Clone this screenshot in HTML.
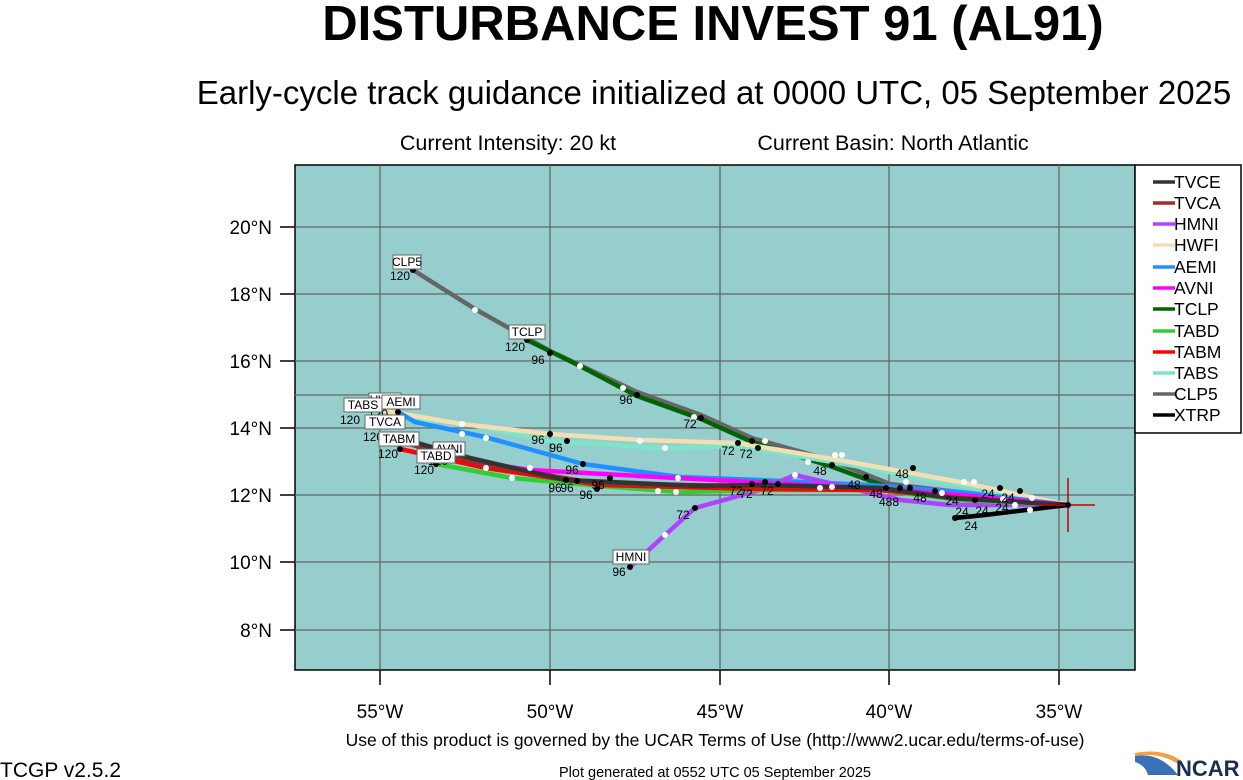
<!DOCTYPE html>
<html><head><meta charset="utf-8"><style>
html,body{margin:0;padding:0;background:#fff;width:1243px;height:780px;overflow:hidden}
svg{display:block;font-family:"Liberation Sans",Arial,sans-serif}
</style></head><body>
<svg width="1243" height="780" viewBox="0 0 1243 780" xmlns="http://www.w3.org/2000/svg">
<text x="713" y="40" font-size="49" font-weight="bold" text-anchor="middle">DISTURBANCE INVEST 91 (AL91)</text>
<text x="714" y="104" font-size="33" text-anchor="middle">Early-cycle track guidance initialized at 0000 UTC, 05 September 2025</text>
<text x="508" y="150" font-size="21.5" text-anchor="middle">Current Intensity: 20 kt</text>
<text x="893" y="150" font-size="21.5" text-anchor="middle">Current Basin: North Atlantic</text>
<rect x="295" y="165" width="840" height="505" fill="#96cdcd" stroke="#000" stroke-width="1.5"/>
<g stroke="#666" stroke-width="1.3">
<line x1="380" y1="165" x2="380" y2="670"/><line x1="550" y1="165" x2="550" y2="670"/><line x1="720" y1="165" x2="720" y2="670"/><line x1="889" y1="165" x2="889" y2="670"/><line x1="1059" y1="165" x2="1059" y2="670"/>
<line x1="295" y1="227" x2="1135" y2="227"/><line x1="295" y1="294" x2="1135" y2="294"/><line x1="295" y1="361" x2="1135" y2="361"/><line x1="295" y1="395" x2="1135" y2="395"/><line x1="295" y1="428" x2="1135" y2="428"/><line x1="295" y1="495" x2="1135" y2="495"/><line x1="295" y1="562" x2="1135" y2="562"/><line x1="295" y1="630" x2="1135" y2="630"/>
</g>
<g stroke="#000" stroke-width="1.5">
<line x1="280" y1="227" x2="295" y2="227"/><line x1="280" y1="294" x2="295" y2="294"/><line x1="280" y1="361" x2="295" y2="361"/><line x1="280" y1="428" x2="295" y2="428"/><line x1="280" y1="495" x2="295" y2="495"/><line x1="280" y1="562" x2="295" y2="562"/><line x1="280" y1="630" x2="295" y2="630"/>
<line x1="380" y1="670" x2="380" y2="685"/><line x1="550" y1="670" x2="550" y2="685"/><line x1="720" y1="670" x2="720" y2="685"/><line x1="889" y1="670" x2="889" y2="685"/><line x1="1059" y1="670" x2="1059" y2="685"/>
</g>
<g font-size="19" text-anchor="end">
<text x="272" y="234">20°N</text><text x="272" y="301">18°N</text><text x="272" y="368">16°N</text><text x="272" y="435">14°N</text><text x="272" y="502">12°N</text><text x="272" y="569">10°N</text><text x="272" y="637">8°N</text>
</g>
<g font-size="19" text-anchor="middle">
<text x="380" y="718">55°W</text><text x="550" y="718">50°W</text><text x="720" y="718">45°W</text><text x="889" y="718">40°W</text><text x="1059" y="718">35°W</text>
</g>
<g fill="none" stroke-width="4.5" stroke-linejoin="round" stroke-linecap="round">
<polyline stroke="#666666" points="1068,505 890,484 830,460 752,438 701,415 637,392 550,351 475,309 413,270"/>
<polyline stroke="#006400" points="1068,505 890,488 830,466 752,442 701,419 637,396 580,366 527,340"/>
<polyline stroke="#7fe5c8" points="1068,505 960,485 850,465 738,446 660,448 550,441 462,423 365,415"/>
<polyline stroke="#f5deb3" points="1068,505 960,482 850,462 738,443 640,440 550,434 462,424 380,410"/>
<polyline stroke="#1e90ff" points="1068,505 960,492 870,485 760,480 680,477 583,464 485,437 415,422 398,412"/>
<polyline stroke="#ff00ff" points="1068,505 960,495 870,488 770,483 676,478 530,470 455,459"/>
<polyline stroke="#b042ff" points="1068,505 950,505 900,500 850,488 795,475 760,490 695,508 665,535 630,567"/>
<polyline stroke="#32cd32" points="1068,505 960,500 880,490 760,490 680,492 600,486 512,478 436,464"/>
<polyline stroke="#ff0000" points="1068,505 960,498 880,490 760,489 600,485 486,468 400,449"/>
<polyline stroke="#a52a2a" points="1068,505 955,498 880,488 760,486 600,484 480,464 395,440"/>
<polyline stroke="#333333" points="1068,505 950,498 880,488 760,485 700,486 566,480 470,458 393,436"/>
<polyline stroke="#000000" points="1068,505 985,515 955,518"/>
</g>
<g stroke="#cc0000" stroke-width="1.5"><line x1="1040" y1="505" x2="1095" y2="505"/><line x1="1068" y1="478" x2="1068" y2="532"/></g>
<g fill="#fff">
<circle cx="475" cy="310" r="3"/><circle cx="580" cy="366" r="3"/><circle cx="623" cy="388" r="3"/><circle cx="694" cy="417" r="3"/><circle cx="765" cy="441" r="3"/><circle cx="462" cy="424" r="3"/><circle cx="462" cy="434" r="3"/><circle cx="640" cy="441" r="3"/><circle cx="665" cy="448" r="3"/><circle cx="486" cy="438" r="3"/><circle cx="530" cy="468" r="3"/><circle cx="486" cy="468" r="3"/><circle cx="512" cy="478" r="3"/><circle cx="678" cy="478" r="3"/><circle cx="658" cy="491" r="3"/><circle cx="676" cy="492" r="3"/><circle cx="665" cy="535" r="3"/><circle cx="795" cy="475" r="3"/><circle cx="808" cy="462" r="3"/><circle cx="835" cy="455" r="3"/><circle cx="842" cy="455" r="3"/><circle cx="906" cy="482" r="3"/><circle cx="964" cy="482" r="3"/><circle cx="974" cy="482" r="3"/><circle cx="1032" cy="498" r="3"/><circle cx="1030" cy="510" r="3"/><circle cx="1003" cy="499" r="3"/><circle cx="942" cy="493" r="3"/><circle cx="832" cy="487" r="3"/><circle cx="820" cy="488" r="3"/><circle cx="1015" cy="505" r="3"/></g>
<g fill="#000">
<circle cx="413" cy="270" r="3"/><circle cx="527" cy="340" r="3"/><circle cx="550" cy="353" r="3"/><circle cx="637" cy="395" r="3"/><circle cx="701" cy="418" r="3"/><circle cx="550" cy="434" r="3"/><circle cx="567" cy="441" r="3"/><circle cx="398" cy="412" r="3"/><circle cx="583" cy="464" r="3"/><circle cx="400" cy="449" r="3"/><circle cx="436" cy="464" r="3"/><circle cx="566" cy="480" r="3"/><circle cx="577" cy="481" r="3"/><circle cx="610" cy="478" r="3"/><circle cx="597" cy="489" r="3"/><circle cx="630" cy="567" r="3"/><circle cx="695" cy="508" r="3"/><circle cx="738" cy="443" r="3"/><circle cx="758" cy="448" r="3"/><circle cx="752" cy="441" r="3"/><circle cx="752" cy="484" r="3"/><circle cx="765" cy="482" r="3"/><circle cx="778" cy="484" r="3"/><circle cx="832" cy="465" r="3"/><circle cx="866" cy="477" r="3"/><circle cx="913" cy="468" r="3"/><circle cx="886" cy="488" r="3"/><circle cx="900" cy="488" r="3"/><circle cx="910" cy="488" r="3"/><circle cx="935" cy="491" r="3"/><circle cx="1000" cy="488" r="3"/><circle cx="1020" cy="491" r="3"/><circle cx="975" cy="500" r="3"/><circle cx="955" cy="518" r="3"/><circle cx="1068" cy="505" r="3"/></g>
<g font-size="12" text-anchor="middle">
<text x="400" y="280">120</text><text x="515" y="351">120</text><text x="538" y="364">96</text><text x="626" y="404">96</text><text x="690" y="428">72</text><text x="728" y="455">72</text><text x="746" y="458">72</text><text x="538" y="444">96</text><text x="556" y="452">96</text><text x="572" y="474">96</text><text x="555" y="492">96</text><text x="567" y="492">96</text><text x="586" y="499">96</text><text x="598" y="489">96</text><text x="619" y="576">96</text><text x="683" y="519">72</text><text x="736" y="495">72</text><text x="746" y="498">72</text><text x="767" y="495">72</text><text x="820" y="475">48</text><text x="854" y="489">48</text><text x="902" y="478">48</text><text x="876" y="498">48</text><text x="889" y="506">488</text><text x="920" y="502">48</text><text x="952" y="505">24</text><text x="988" y="498">24</text><text x="1008" y="502">24</text><text x="962" y="516">24</text><text x="982" y="515">24</text><text x="1002" y="512">24</text><text x="971" y="530">24</text><text x="350" y="424">120</text><text x="373" y="441">120</text><text x="388" y="458">120</text><text x="424" y="474">120</text><text x="438" y="465">120</text><text x="378" y="418">120</text></g>
<g font-size="12" text-anchor="middle">
<rect x="393" y="255" width="28" height="14" fill="#fff" stroke="#666"/><text x="407" y="266">CLP5</text>
<rect x="509" y="325" width="36" height="14" fill="#fff" stroke="#666"/><text x="527" y="336">TCLP</text>
<rect x="369" y="393" width="32" height="14" fill="#fff" stroke="#666"/><text x="385" y="404">HWFI</text>
<rect x="344" y="398" width="38" height="14" fill="#fff" stroke="#666"/><text x="363" y="409">TABS</text>
<rect x="382" y="395" width="38" height="14" fill="#fff" stroke="#666"/><text x="401" y="406">AEMI</text>
<rect x="365" y="415" width="40" height="14" fill="#fff" stroke="#666"/><text x="385" y="426">TVCA</text>
<rect x="379" y="432" width="40" height="14" fill="#fff" stroke="#666"/><text x="399" y="443">TABM</text>
<rect x="433" y="442" width="32" height="14" fill="#fff" stroke="#666"/><text x="449" y="453">AVNI</text>
<rect x="417" y="449" width="38" height="14" fill="#fff" stroke="#666"/><text x="436" y="460">TABD</text>
<rect x="613" y="550" width="36" height="14" fill="#fff" stroke="#666"/><text x="631" y="561">HMNI</text>
</g>
<rect x="1135" y="165" width="106" height="268" fill="#fff" stroke="#000" stroke-width="1.5"/>
<g stroke-width="3.5" font-size="17.5">
<line x1="1153" y1="182" x2="1175" y2="182" stroke="#333"/><text x="1174" y="188">TVCE</text>
<line x1="1153" y1="203" x2="1175" y2="203" stroke="#a52a2a"/><text x="1174" y="209">TVCA</text>
<line x1="1153" y1="224" x2="1175" y2="224" stroke="#b042ff"/><text x="1174" y="230">HMNI</text>
<line x1="1153" y1="245" x2="1175" y2="245" stroke="#f5deb3"/><text x="1174" y="251">HWFI</text>
<line x1="1153" y1="267" x2="1175" y2="267" stroke="#1e90ff"/><text x="1174" y="273">AEMI</text>
<line x1="1153" y1="288" x2="1175" y2="288" stroke="#ff00ff"/><text x="1174" y="294">AVNI</text>
<line x1="1153" y1="309" x2="1175" y2="309" stroke="#006400"/><text x="1174" y="315">TCLP</text>
<line x1="1153" y1="331" x2="1175" y2="331" stroke="#32cd32"/><text x="1174" y="337">TABD</text>
<line x1="1153" y1="352" x2="1175" y2="352" stroke="#ff0000"/><text x="1174" y="358">TABM</text>
<line x1="1153" y1="373" x2="1175" y2="373" stroke="#7fe5c8"/><text x="1174" y="379">TABS</text>
<line x1="1153" y1="394" x2="1175" y2="394" stroke="#666"/><text x="1174" y="400">CLP5</text>
<line x1="1153" y1="415" x2="1175" y2="415" stroke="#000"/><text x="1174" y="421">XTRP</text>
</g>
<text x="715" y="746" font-size="17.5" text-anchor="middle">Use of this product is governed by the UCAR Terms of Use (http://www2.ucar.edu/terms-of-use)</text>
<text x="0" y="777" font-size="21">TCGP v2.5.2</text>
<text x="715" y="777" font-size="14.5" text-anchor="middle">Plot generated at 0552 UTC   05 September 2025</text>
<path d="M1135,756 Q1160,752 1178,775 L1148,775 Q1145,765 1135,762 Z" fill="#3b6fb6"/>
<path d="M1135,753 Q1162,748 1180,760 L1178,764 Q1160,752 1135,756 Z" fill="#f0a040"/>
<text x="1176" y="776" font-size="22" font-weight="bold" fill="#1a2e55">NCAR</text>
</svg>
</body></html>
